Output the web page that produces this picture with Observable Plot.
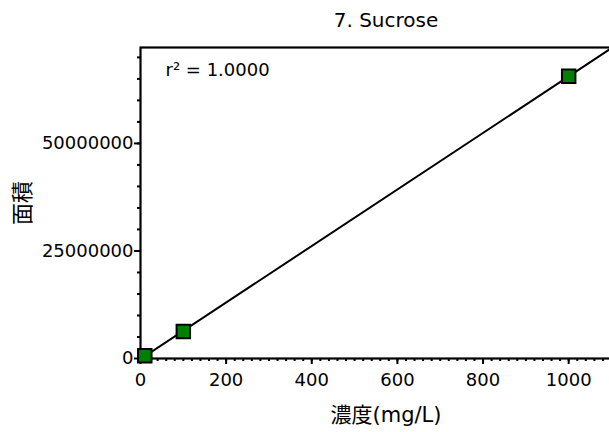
<!DOCTYPE html>
<html>
<head>
<meta charset="utf-8">
<script src="https://cdn.jsdelivr.net/npm/d3@7"></script>
<script src="https://cdn.jsdelivr.net/npm/@observablehq/plot@0.6"></script>
<style>
  html, body { margin: 0; padding: 0; background: #fff; }
  #chart svg { display: block; }
</style>
</head>
<body>
<div id="chart"></div>
<script>
// Data
const concentrations = [10, 100, 1000];            // 濃度 (mg/L)
const areas = [650000, 6300000, 65600000];          // 面積
const title = "7. Sucrose";
const xLabel = "濃度(mg/L)";
const yLabel = "面積";
const xTicks = [0, 200, 400, 600, 800, 1000];
const yTicks = [0, 25000000, 50000000];
const xDomain = [0, 1100];
const yDomain = [0, 72300000];

const points = concentrations.map((c, i) => ({x: c, y: areas[i]}));

// least-squares fit
const mx = d3.mean(concentrations), my = d3.mean(areas);
const slope = d3.sum(points, p => (p.x - mx) * (p.y - my)) / d3.sum(points, p => (p.x - mx) ** 2);
const intercept = my - slope * mx;
const ssTot = d3.sum(points, p => (p.y - my) ** 2);
const ssRes = d3.sum(points, p => (p.y - (intercept + slope * p.x)) ** 2);
const r2 = 1 - ssRes / ssTot;
const fitLine = xDomain.map(x => ({x, y: intercept + slope * x}));

const font = "'DejaVu Sans', 'Noto Sans CJK JP', sans-serif";

const chart = Plot.plot({
  width: 609,
  height: 432,
  marginLeft: 140,
  marginRight: -2,
  marginTop: 47,
  marginBottom: 74,
  style: {fontFamily: font, fontSize: "18px", color: "black", background: "white"},
  x: {domain: xDomain, label: null},
  y: {domain: yDomain, label: null},
  marks: [
    Plot.line(fitLine, {x: "x", y: "y", stroke: "black", strokeWidth: 2, clip: true}),
    Plot.frame({stroke: "black", strokeWidth: 2.2}),
    // minor ticks
    Plot.axisX({ticks: d3.range(0, 1100, 20), tickSize: 3, strokeWidth: 2, text: null}),
    Plot.axisY({ticks: d3.range(0, 72000000, 5000000), tickSize: 3, strokeWidth: 2, text: null}),
    // major ticks + labels
    Plot.axisX({ticks: xTicks, tickSize: 6, strokeWidth: 2, tickPadding: 9, fontSize: 18, tickFormat: d3.format("d")}),
    Plot.axisY({ticks: yTicks, tickSize: 6, strokeWidth: 2, tickPadding: 1, fontSize: 18, tickFormat: d3.format("d")}),
    Plot.dot(points, {x: "x", y: "y", symbol: "square", r: 7.6, fill: "#008000", stroke: "black", strokeWidth: 2}),
    Plot.text([`r² = ${r2.toFixed(4)}`], {frameAnchor: "top-left", dx: 25, dy: 23, lineAnchor: "middle", textAnchor: "start", fontSize: 18}),
    Plot.text([title], {frameAnchor: "top", textAnchor: "middle", dx: 10, dy: -27, lineAnchor: "middle", fontSize: 20}),
    Plot.text([xLabel], {frameAnchor: "bottom", textAnchor: "middle", dx: 10, dy: 57, lineAnchor: "middle", fontSize: 21}),
    Plot.text([yLabel], {frameAnchor: "left", textAnchor: "middle", dx: -118, dy: 0, rotate: -90, lineAnchor: "middle", fontSize: 22})
  ]
});
document.getElementById("chart").appendChild(chart);
</script>
</body>
</html>
